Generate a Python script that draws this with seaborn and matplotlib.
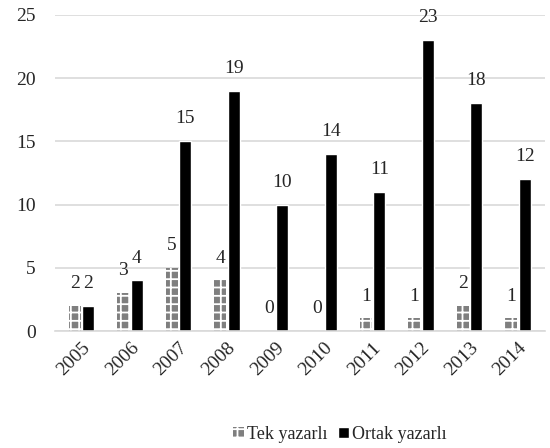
import matplotlib
matplotlib.use('Agg')
import matplotlib.pyplot as plt
import seaborn as sns
import pandas as pd
from matplotlib.patches import Patch

# %% Data
years = ['2005', '2006', '2007', '2008', '2009', '2010', '2011', '2012', '2013', '2014']
tek = [2, 3, 5, 4, 0, 0, 1, 1, 2, 1]
ortak = [2, 4, 15, 19, 10, 14, 11, 23, 18, 12]
series_names = ['Tek yazarlı', 'Ortak yazarlı']

df = pd.DataFrame({
    'Yil': years * 2,
    'Sayi': tek + ortak,
    'Tur': [series_names[0]] * len(years) + [series_names[1]] * len(years),
})

# %% Plot
sns.set_style('white')
plt.rcParams['font.family'] = ['Liberation Serif', 'DejaVu Serif']
plt.rcParams['hatch.linewidth'] = 1.3
fs = 14

fig = plt.figure(figsize=(5.5, 4.48), dpi=100)
ax = fig.add_axes([0.1, 0.261, 0.89, 0.706])

sns.barplot(data=df, x='Yil', y='Sayi', hue='Tur', palette=['#7f7f7f', '#000000'],
            width=0.56, gap=0.12, ax=ax, legend=False, saturation=1)

# pattern on the gray bars
for bar in ax.containers[0]:
    bar.set_hatch('++')
    bar.set_edgecolor('white')
    bar.set_linewidth(0)

for cont in ax.containers:
    ax.bar_label(cont, padding=10, fontsize=fs)

ax.set_ylim(0, 25)
ax.set_yticks([0, 5, 10, 15, 20, 25])
ax.yaxis.grid(True, color='#d9d9d9', linewidth=1.2)
ax.set_axisbelow(True)
for s in ['top', 'right', 'left']:
    ax.spines[s].set_visible(False)
ax.spines['bottom'].set_color('#d9d9d9')
ax.spines['bottom'].set_linewidth(1.2)
ax.set_xlabel('')
ax.set_ylabel('')
ax.tick_params(axis='y', length=0, labelsize=fs, pad=14)
ax.tick_params(axis='x', length=0, labelsize=fs, pad=6)
plt.setp(ax.get_xticklabels(), rotation=45, ha='right', rotation_mode='anchor')
ax.set_xlim(-0.55, 9.55)

handles = [Patch(facecolor='#7f7f7f', edgecolor='white', hatch='++', linewidth=0),
           Patch(facecolor='black')]
fig.legend(handles, series_names, loc='center', bbox_to_anchor=(0.618, 0.03), ncol=2,
           frameon=False, fontsize=13, handlelength=0.6, handleheight=0.6,
           handletextpad=0.15, columnspacing=0.6)

fig.savefig('out.png', dpi=100)
